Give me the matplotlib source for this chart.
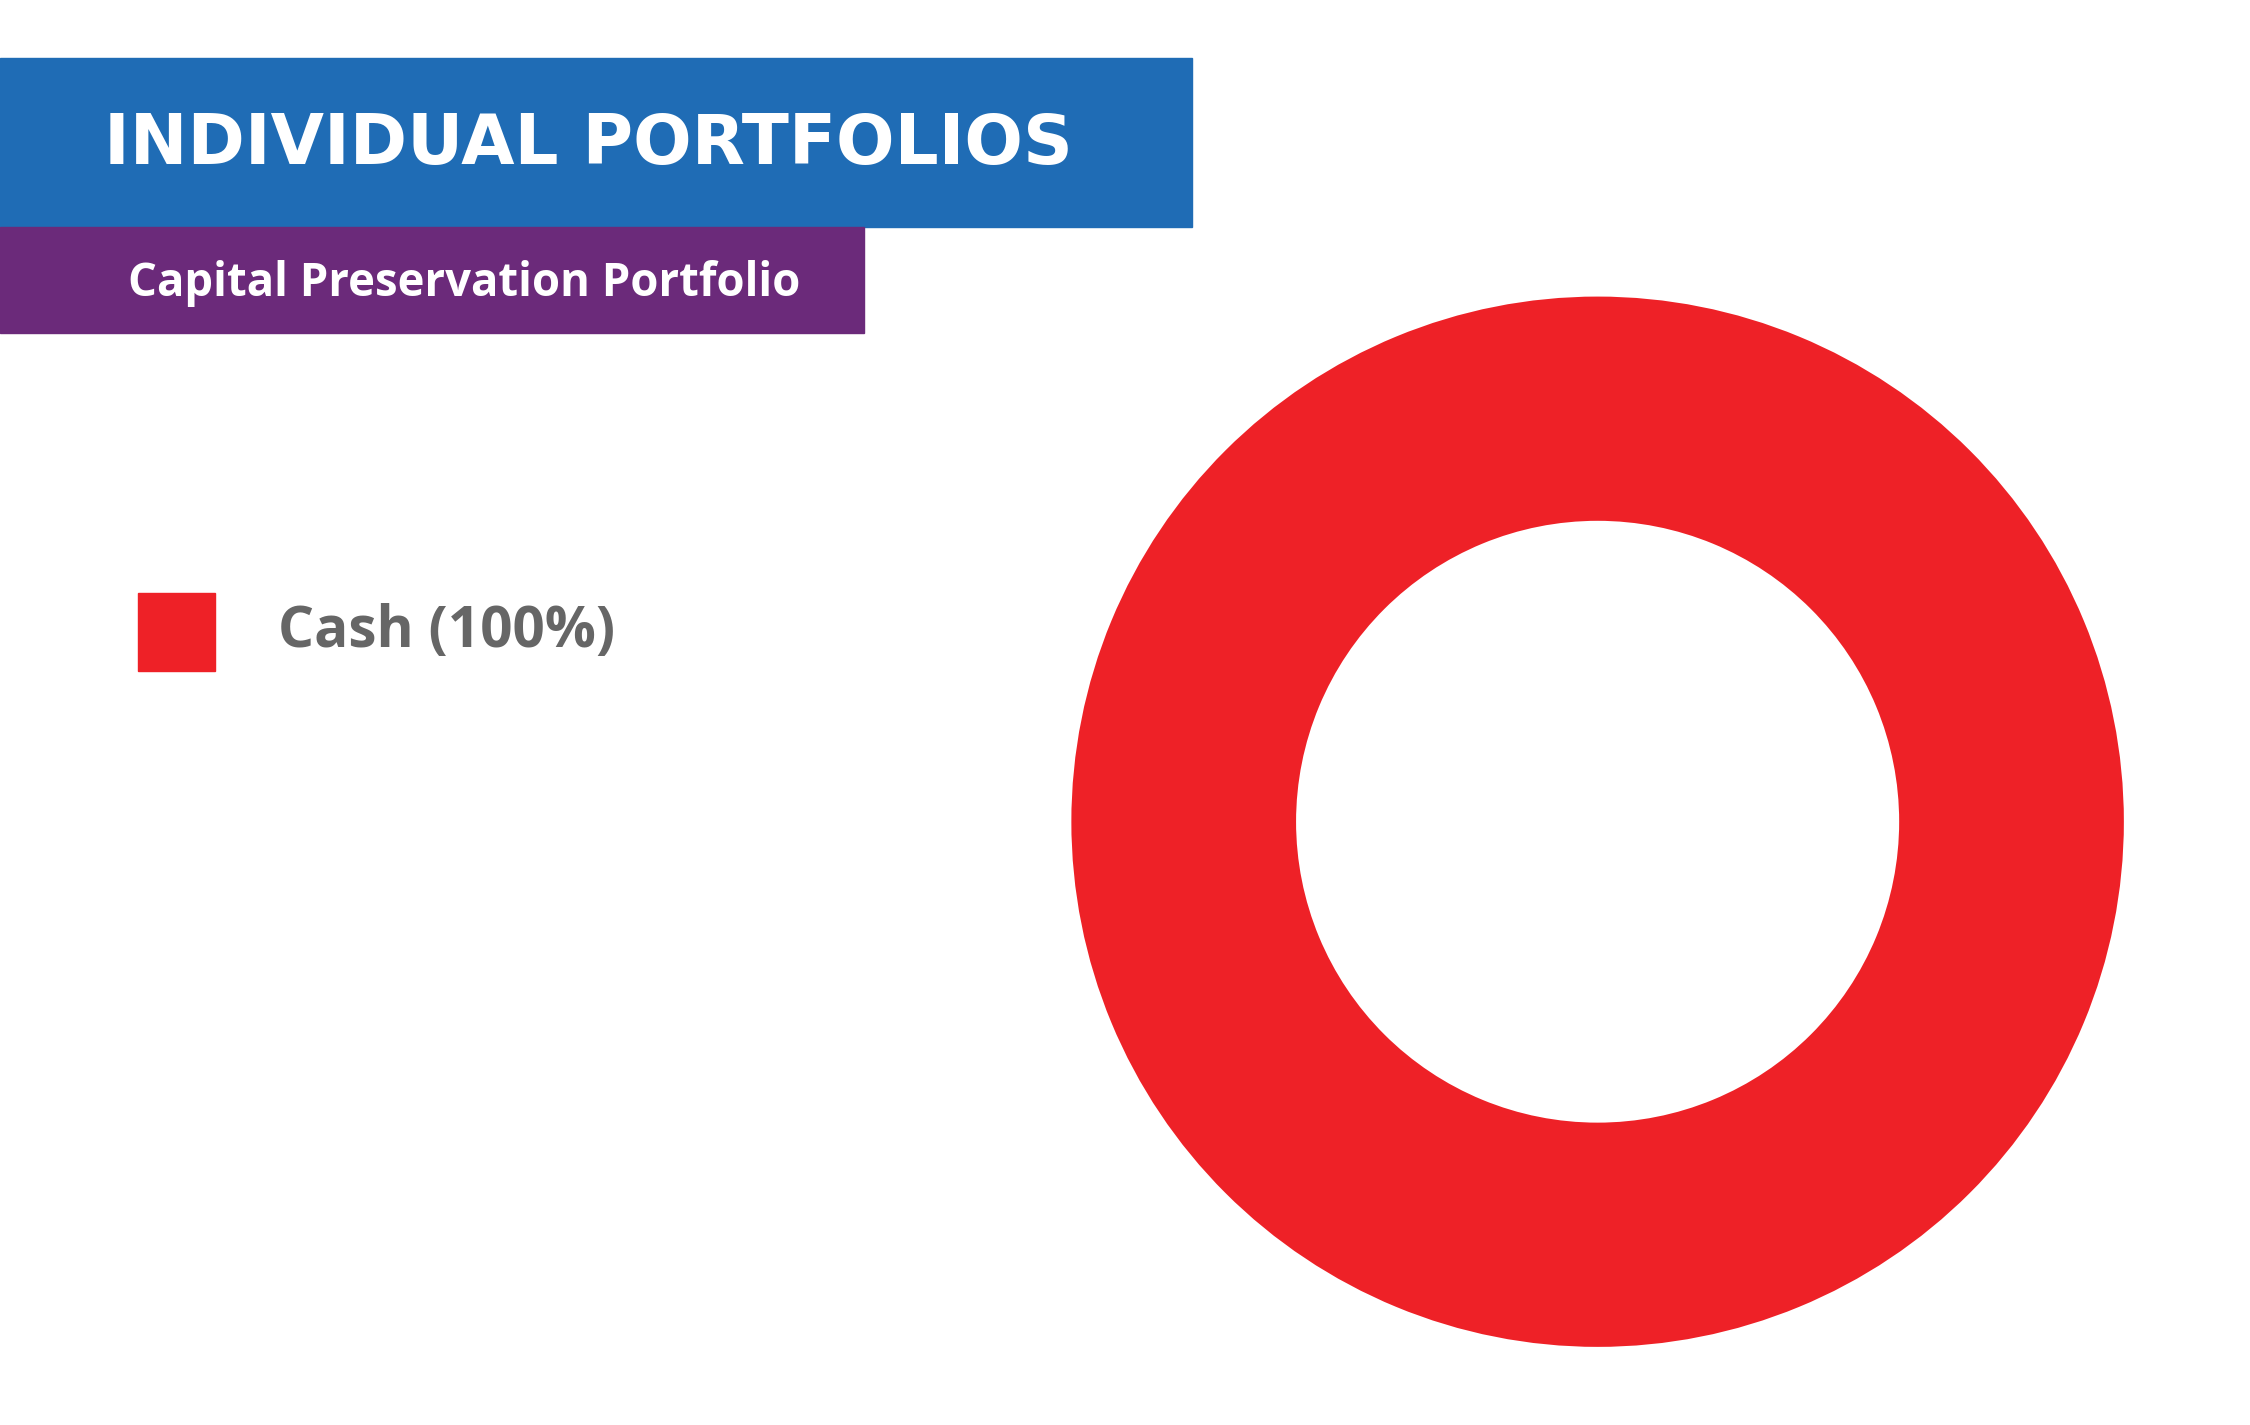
import matplotlib
matplotlib.use("Agg")
import matplotlib.pyplot as plt
from matplotlib.patches import Rectangle

labels = ["Cash (100%)"]
values = [100]
colors = ["#ee2127"]
title = "INDIVIDUAL PORTFOLIOS"
subtitle = "Capital Preservation Portfolio"

W, H = 1552, 985
fig = plt.figure(figsize=(22.5, 14.25), dpi=100)
fig.patch.set_facecolor("white")

def fx(x): return x / W
def fy(y): return 1 - y / H

fig.patches.append(Rectangle((0, fy(157)), fx(822), (157-40)/H, transform=fig.transFigure, color="#1f6cb5", zorder=0))
fig.patches.append(Rectangle((0, fy(230)), fx(596), (230-157)/H, transform=fig.transFigure, color="#6b2a7a", zorder=0))
fig.patches.append(Rectangle((fx(95), fy(464)), fx(53), 54/H, transform=fig.transFigure, color=colors[0], zorder=0))

fig.canvas.draw()
r = fig.canvas.get_renderer()
def fit(t, target_px, start):
    t.set_fontsize(start)
    w = t.get_window_extent(r).width
    t.set_fontsize(start * target_px / w)

t1 = fig.text(fx(72), fy(100), title, color="white", fontweight="bold",
              family=["Liberation Sans Narrow", "DejaVu Sans"], va="center", ha="left")
fit(t1, 668 / W * 2250, 80)
t2 = fig.text(fx(88), fy(196), subtitle, color="white", fontweight="bold",
              family=["Open Sans", "DejaVu Sans"], va="center", ha="left")
fit(t2, 465 / W * 2250, 36)
t3 = fig.text(fx(192), fy(437), labels[0], color="#666666", fontweight="bold",
              family=["Open Sans", "DejaVu Sans"], va="center", ha="left")
fit(t3, 233 / W * 2250, 36)

cx, cy, R = 1102, 568, 363
ax = fig.add_axes([fx(cx - R), fy(cy + R), 2 * R / W, 2 * R / H])
ax.pie(values, colors=colors, startangle=90, counterclock=False,
       wedgeprops=dict(width=(363 - 208) / 363, linewidth=0))
ax.set_xlim(-1, 1); ax.set_ylim(-1, 1)
ax.set_aspect("auto")
ax.axis("off")

fig.savefig("out.png", dpi=100, facecolor="white")
